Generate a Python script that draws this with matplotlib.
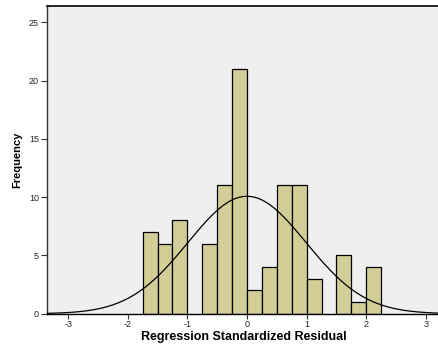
import matplotlib.pyplot as plt
import numpy as np

plt.rcParams['font.family'] = ['Liberation Sans', 'DejaVu Sans']
plt.rcParams['axes.unicode_minus'] = False

# histogram bins (width 0.25) and counts
bin_left = [-1.75, -1.5, -1.25, -1.0, -0.75, -0.5, -0.25, 0.0,
            0.25, 0.5, 0.75, 1.0, 1.25, 1.5, 1.75, 2.0]
counts = [7, 6, 8, 0, 6, 11, 21, 2, 4, 11, 11, 3, 0, 5, 1, 4]
bin_width = 0.25

# normal curve parameters
n_obs = 100
res_mean = 0.0
res_sd = 0.99

xticks = [-3, -2, -1, 0, 1, 2, 3]
yticks = [0, 5, 10, 15, 20, 25]

fig = plt.figure(figsize=(4.39, 3.44), dpi=100)
ax = fig.add_axes([0.1077, 0.088, 0.8923, 0.8948])
ax.set_facecolor('#efefef')

lefts = [b for b, c in zip(bin_left, counts) if c > 0]
heights = [c for c in counts if c > 0]
ax.bar(lefts, heights, width=bin_width, align='edge', color='#d3ce97',
       edgecolor='black', linewidth=0.9, zorder=2)

xs = np.linspace(-3.35, 3.22, 400)
ys = n_obs * bin_width * np.exp(-0.5 * ((xs - res_mean) / res_sd) ** 2) / (res_sd * np.sqrt(2 * np.pi))
ax.plot(xs, ys, color='black', linewidth=0.9, zorder=3)

ax.set_xlim(-3.35, 3.22)
ax.set_ylim(0, 26.4)
ax.set_xticks(xticks)
ax.set_yticks(yticks)
ax.tick_params(axis='both', direction='out', length=4.5, width=0.8,
               labelsize=6.5, pad=1.5, color='#333333', labelcolor='#222222')
ax.tick_params(axis='x', length=3.5, pad=0.8)

ax.spines['right'].set_visible(False)
ax.spines['top'].set_linewidth(1.2)
ax.spines['left'].set_linewidth(1.0)
ax.spines['bottom'].set_linewidth(1.0)
ax.spines['left'].set_color('#333333')

fig.text(0.556, 0.003, 'Regression Standardized Residual', fontsize=9,
         fontweight='bold', ha='center', va='bottom')
ax.set_ylabel('Frequency', fontsize=8, fontweight='bold', labelpad=5)

fig.savefig('out.png', dpi=100)
